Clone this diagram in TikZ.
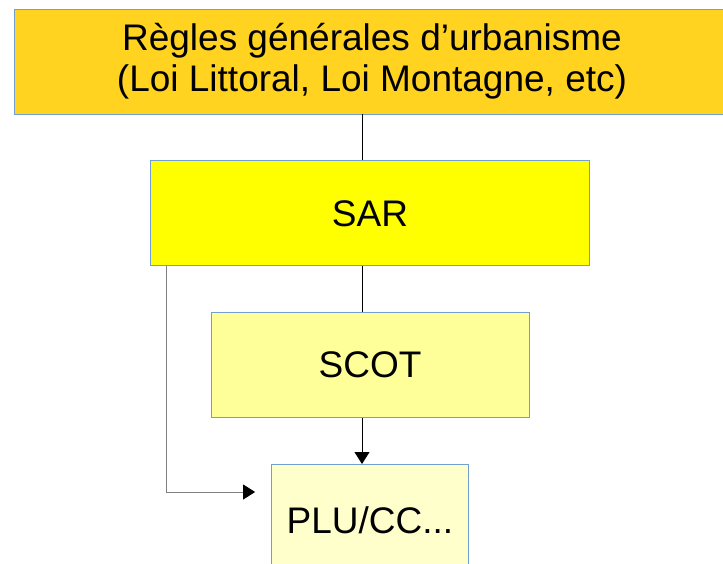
\documentclass[tikz,border=0pt]{standalone}
\usepackage{fontspec}
\setmainfont{Liberation Sans}
\definecolor{BoxLine}  {RGB}{114,159,207}
\definecolor{RuleGold} {RGB}{255,211,32}
\definecolor{SarYellow}{RGB}{255,255,0}
\definecolor{ScotPale} {RGB}{255,255,153}
\definecolor{PluPale}  {RGB}{255,255,204}
\usetikzlibrary{arrows.meta,positioning}

\begin{document}
\begin{tikzpicture}[x=1pt,y=-1pt,node distance=46pt,
  box/.style={draw=BoxLine,line width=0.8pt,minimum height=105pt,
              inner sep=0pt,align=center,
              font=\fontsize{37}{41}\selectfont},
  link/.style={black,line width=0.8pt}]
  \useasboundingbox (0,0) rectangle (723,563);
  \coordinate (axis) at (362,0);
  \coordinate (bend) at (166,492);
  \node[box,fill=RuleGold,minimum width=716pt] (RG) at (372,61.5)
       {Règles générales d’urbanisme\\(Loi Littoral, Loi Montagne, etc)};
  \node[box,below=of RG,xshift=-2pt,fill=SarYellow,minimum width=439pt] (SAR){SAR};
  \node[box,below=of SAR,fill=ScotPale,minimum width=318pt] (SCOT){SCOT};
  \node[box,below=of SCOT,fill=PluPale,minimum width=197pt,minimum height=111pt] (PLU){PLU/CC...};
  \draw[link](RG.south -| axis)--(SAR.north -| axis);
  \draw[link](SAR.south -| axis)--(SCOT.north -| axis);
  \draw[link,-{Triangle[length=12pt,width=15pt]}](SCOT.south -| axis)--(PLU.north -| axis);
  \draw[link,gray,-{Triangle[length=12pt,width=15pt,fill=black,color=black]},shorten >=16pt]
       (SAR.south -| bend)--(bend)--(bend -| PLU.west);
\end{tikzpicture}
\end{document}
